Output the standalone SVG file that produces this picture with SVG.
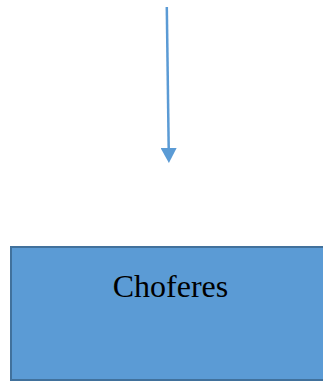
<svg xmlns="http://www.w3.org/2000/svg" width="323" height="381" viewBox="0 0 323 381">
  <style>
    .box { fill: #5b9bd5; stroke: #41719c; stroke-width: 2; }
    .label { font-family: "Liberation Serif", "Times New Roman", serif; font-size: 32px; fill: #000; }
    .link { stroke: #5b9bd5; stroke-width: 2.5; fill: none; }
  </style>
  <defs>
    <marker id="arrowhead" markerUnits="userSpaceOnUse" markerWidth="16" markerHeight="16" refX="0" refY="8" orient="auto">
      <path d="M0,0 L15,8 L0,16 Z" fill="#5b9bd5"/>
    </marker>
  </defs>
  <g id="connectors">
    <line class="link" x1="166.8" y1="7" x2="168.7" y2="148" marker-end="url(#arrowhead)"/>
  </g>
  <g id="choferes">
    <rect class="box" x="11" y="247" width="320" height="133"/>
    <text class="label" x="170.5" y="297" text-anchor="middle">Choferes</text>
  </g>
</svg>
